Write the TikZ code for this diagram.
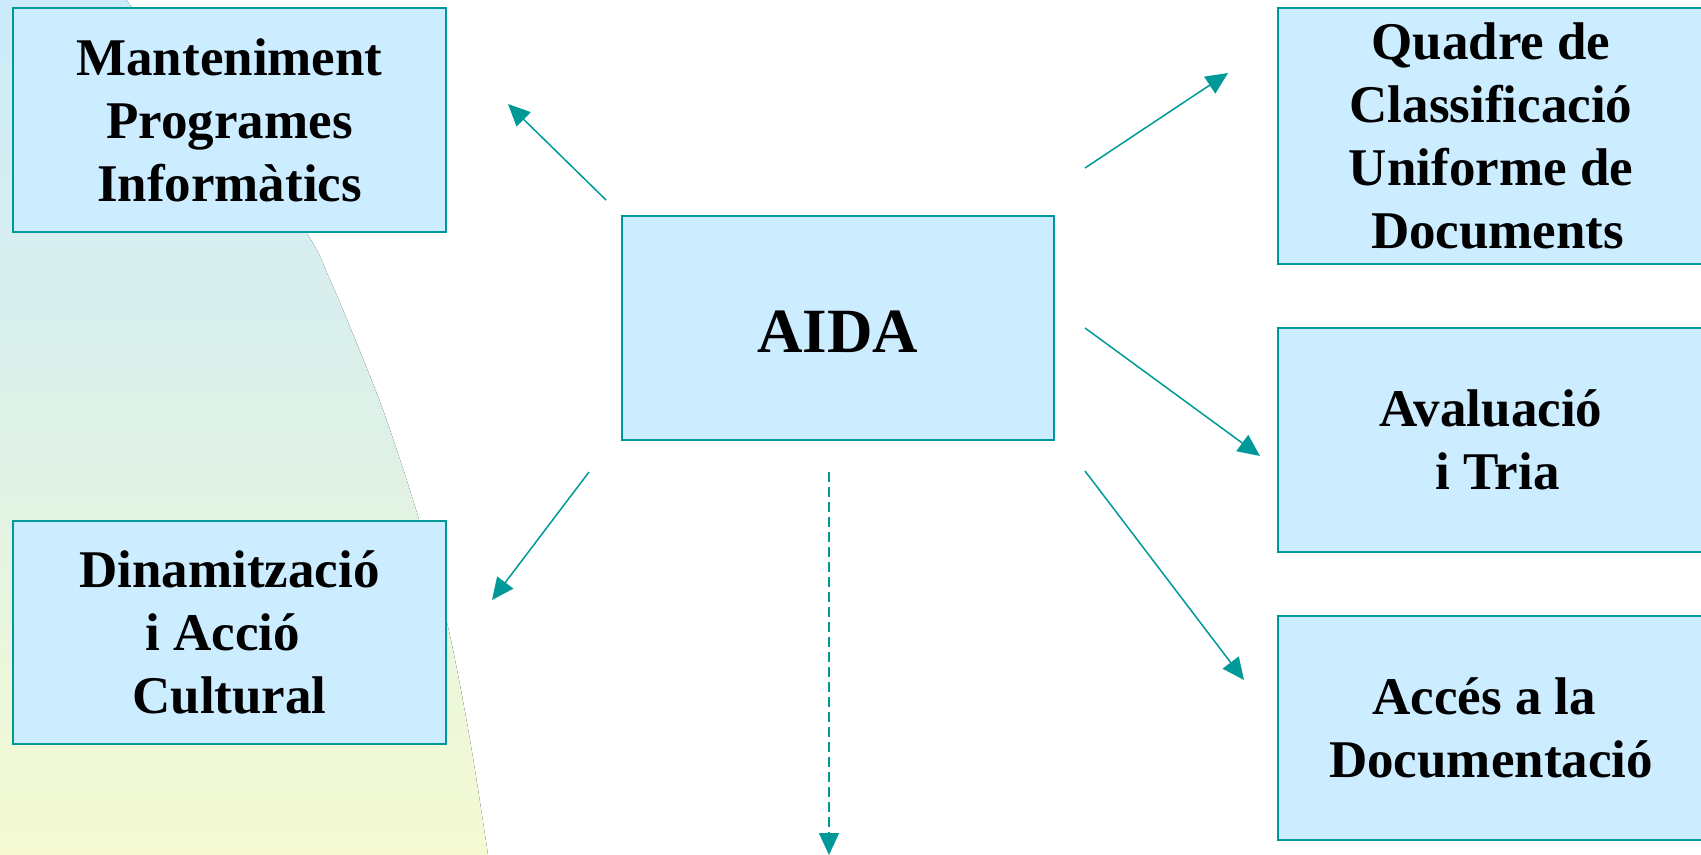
\documentclass[tikz,border=0pt]{standalone}
\usepackage{fontspec}
\setmainfont{Liberation Serif}
\usetikzlibrary{arrows.meta}
\definecolor{boxfill}{RGB}{204,236,255}
\definecolor{teal}{RGB}{0,153,153}
\definecolor{bgtop}{RGB}{204,235,250}
\definecolor{bgmid}{RGB}{222,241,232}
\definecolor{bgbot}{RGB}{245,250,210}
\tikzset{
  box/.style={draw=teal, fill=boxfill, line width=1pt, inner sep=0pt, outer sep=0pt,
    align=center, font=\fontsize{26.5}{31.5}\selectfont\bfseries},
  bigbox/.style={box, font=\fontsize{31.5}{38}\selectfont\bfseries},
  link/.style={draw=teal, line width=0.75pt, -{Triangle[length=11pt,width=10pt]}},
  dlink/.style={link, dash pattern=on 5pt off 2.5pt}
}
\begin{document}
\begin{tikzpicture}[x=0.5pt,y=-0.5pt]
\useasboundingbox (0,0) rectangle (1701,855);
\fill[top color=bgtop, bottom color=bgbot, middle color=bgmid]
  (0,0) -- plot[smooth] coordinates {(126,0) (220,115) (306,232) (330,280) (350,327) (383,410) (417,513) (448,627) (470,740) (488,855)} -- (0,855) -- cycle;

\node[box, minimum width=216.5pt, minimum height=112pt] (mant) at (229.5,120)
  {Manteniment\\Programes\\Informàtics};
\node[box, minimum width=216.5pt, minimum height=111.5pt] (dina) at (229.5,632.5)
  {Dinamització\\i Acció\kern0.25em\\Cultural};
\node[bigbox, minimum width=216pt, minimum height=112pt] (aida) at (838,328)
  {\raisebox{-1.9pt}[\height][\depth]{AIDA}};
\node[box, minimum width=213pt, minimum height=128pt] (quad) at (1491,136)
  {Quadre de\\Classificació\\Uniforme de\\\kern0.25em Documents};
\node[box, minimum width=213pt, minimum height=112pt] (aval) at (1491,440)
  {Avaluació\\\kern0.25em i Tria};
\node[box, minimum width=213pt, minimum height=112pt] (acce) at (1491,728)
  {Accés a la\kern0.25em\\Documentació};

\coordinate (s1) at (606,200);  \coordinate (e1) at (508,104);
\coordinate (s2) at (589,472);  \coordinate (e2) at (492,600);
\coordinate (s3) at (1085,168); \coordinate (e3) at (1228,73);
\coordinate (s4) at (1085,328); \coordinate (e4) at (1260,456);
\coordinate (s5) at (1085,471); \coordinate (e5) at (1244,680);
\coordinate (s6) at (829,472);  \coordinate (e6) at (829,855);

\draw[link] (s1) -- (e1);
\draw[link] (s2) -- (e2);
\draw[link] (s3) -- (e3);
\draw[link] (s4) -- (e4);
\draw[link] (s5) -- (e5);
\draw[dlink] (s6) -- (e6);
\end{tikzpicture}
\end{document}
